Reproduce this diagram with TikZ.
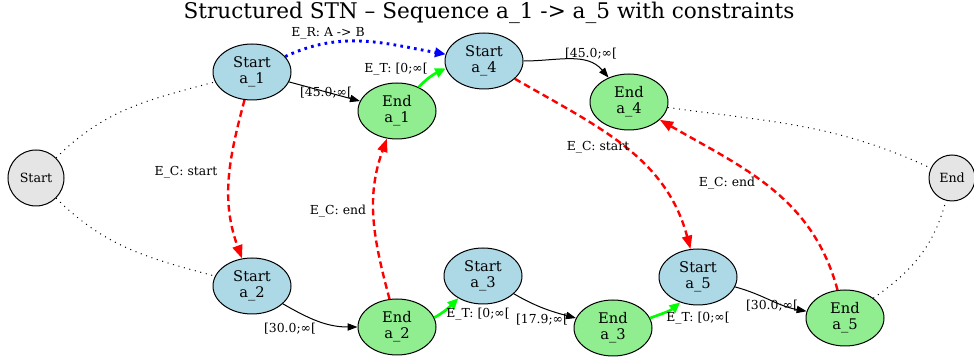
\documentclass[tikz,border=0pt]{standalone}
\usepackage{fontspec}
\setmainfont{DejaVu Serif}
\usetikzlibrary{arrows.meta, shapes.geometric}
\definecolor{startblue}{HTML}{ADD8E6}
\definecolor{endgreen}{HTML}{90EE90}
\definecolor{termgray}{HTML}{E5E5E5}

\begin{document}
\begin{tikzpicture}[x=0.75pt,y=0.75pt,
    evt/.style={ellipse,draw,line width=0.75pt,minimum width=58.5pt,minimum height=42pt,
        inner sep=0pt,align=center,font=\fontsize{11}{12}\selectfont},
    startev/.style={evt,fill=startblue},
    endev/.style={evt,fill=endgreen},
    term/.style={circle,draw,line width=0.75pt,fill=termgray,inner sep=0pt,
        font=\fontsize{9.5}{11}\selectfont},
    lbl/.style={inner sep=0pt,font=\fontsize{9.3}{11}\selectfont},
    tie/.style={line width=0.75pt,dash pattern=on 0.75pt off 3.5pt},
    dur/.style={line width=0.75pt,-{Triangle[length=7.5pt,width=5.5pt]}},
    trans/.style={line width=2pt,green,-{Triangle[length=8pt,width=7pt]}},
    cons/.style={line width=1.8pt,red,dash pattern=on 5pt off 3pt,-{Triangle[length=10pt,width=7.5pt]}},
    res/.style={line width=2.2pt,blue,dash pattern=on 2pt off 3.2pt,-{Triangle[length=8pt,width=7pt]}}]
    \useasboundingbox (0,0) rectangle (974,360);
    \node[font=\fontsize{16.2}{18}\selectfont] (title) at (489,347)
        {Structured STN – Sequence a\_1 -> a\_5 with constraints};
    % events
    \node[term,minimum size=42pt] (S0) at (36,182) {Start};
    \node[term,minimum size=34.5pt] (E0) at (952,182) {End};
    \node[startev] (s1) at (252,288) {Start\\a\_1};
    \node[endev] (e1) at (397,249) {End\\a\_1};
    \node[startev] (s4) at (484,299) {Start\\a\_4};
    \node[endev] (e4) at (629,258) {End\\a\_4};
    \node[startev] (s2) at (252,74) {Start\\a\_2};
    \node[endev] (e2) at (397,33) {End\\a\_2};
    \node[startev] (s3) at (483,84) {Start\\a\_3};
    \node[endev] (e3) at (613,32) {End\\a\_3};
    \node[startev] (s5) at (698,83) {Start\\a\_5};
    \node[endev] (e5) at (845,42) {End\\a\_5};
    % links to start / end
    \draw[tie] (S0) to[out=45,in=195] (s1);
    \draw[tie] (S0) to[out=-45,in=165] (s2);
    \draw[tie] (e4) to[out=-8,in=155] (E0);
    \draw[tie] (e5) to[out=35,in=-105] (E0);
    % durations
    \draw[dur] (s1) to[out=-15,in=165] (e1);
    \draw[dur] (s4) to[out=0,in=130] (e4);
    \draw[dur] (s2) to[out=-30,in=180] (e2);
    \draw[dur] (s3) to[out=-30,in=165] (e3);
    \draw[dur] (s5) to[out=-15,in=170] (e5);
    % transitions
    \draw[trans] (e1.48) to[out=45,in=205] (s4.191);
    \draw[trans] (e2.14) to[out=30,in=225] (s3.222);
    \draw[trans] (e3.15) to[out=20,in=220] (s5.235);
    % constraints
    \draw[res] (s1) to[out=25,in=170] (s4);
    \draw[cons] (s1) to[out=-105,in=110] (s2);
    \draw[cons] (e2) to[out=105,in=-110] (e1);
    \draw[cons] (s4) to[out=-30,in=105] (s5);
    \draw[cons] (e5) to[out=105,in=-30] (e4);
    % labels
    \node[lbl] (lr) at (328,327) {E\_R: A -> B};
    \node[lbl] (lt1) at (396,291) {E\_T: [0;∞[};
    \node[lbl] (ld1) at (326,267) {[45.0;∞[};
    \node[lbl] (ld4) at (591,306) {[45.0;∞[};
    \node[lbl] (lcs4) at (598,213) {E\_C: start};
    \node[lbl] (lce5) at (727,177) {E\_C: end};
    \node[lbl] (ld5) at (772,54) {[30.0;∞[};
    \node[lbl] (lt3) at (698,42) {E\_T: [0;∞[};
    \node[lbl] (lcs1) at (186,188) {E\_C: start};
    \node[lbl] (lce2) at (338,149) {E\_C: end};
    \node[lbl] (ld2) at (290,31) {[30.0;∞[};
    \node[lbl] (lt2) at (478,46) {E\_T: [0;∞[};
    \node[lbl] (ld3) at (542,40) {[17.9;∞[};
\end{tikzpicture}
\end{document}
